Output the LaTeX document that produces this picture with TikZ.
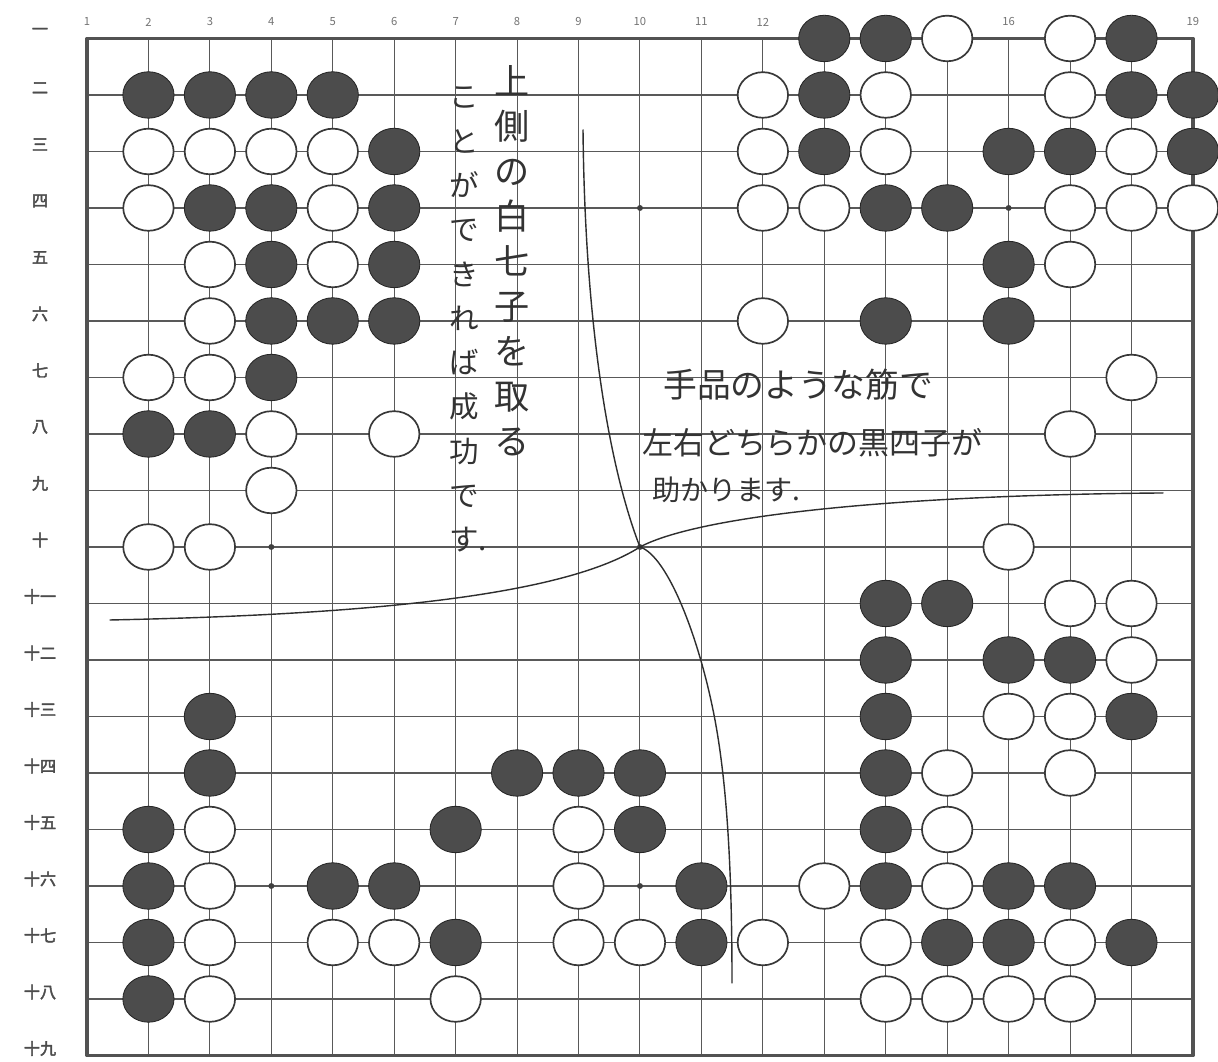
\documentclass[tikz,border=0pt]{standalone}
\usepackage{fontspec}
\newfontfamily\jpfont{Noto Sans CJK JP}
\newfontfamily\jplab[FakeBold=2.5]{Noto Sans CJK JP}
\usetikzlibrary{shapes.geometric}

\begin{document}
\begin{tikzpicture}[x=1.536cm,y=1.4125cm,line cap=round,line join=round,
  every node/.style={inner sep=0pt},
  gridline/.style={line width=0.75pt,draw=black!65},
  bstone/.style={ellipse,minimum width=1.28cm,minimum height=1.16cm,fill=black!70,draw=black!85,line width=0.6pt},
  wstone/.style={ellipse,minimum width=1.26cm,minimum height=1.14cm,fill=white,draw=black!78,line width=1.2pt},
  rowlab/.style={font=\jplab\fontsize{11.5}{11.5}\selectfont,text=black!70,yshift=5pt},
  collab/.style={font=\jpfont\fontsize{8}{8}\selectfont,text=black!55},
  hand/.style={text=black!80,align=center},
  stroke/.style={draw=black!82,line width=1pt}]
  \useasboundingbox (-0.416,-0.319) rectangle (19.408,-19.098);
  \fill[white] (-0.416,-0.319) rectangle (19.408,-19.098);
  % 盤：十九路の線と外枠
  \draw[gridline] (1,-2) -- (19,-2) (1,-3) -- (19,-3) (1,-4) -- (19,-4) (1,-5) -- (19,-5)
    (1,-6) -- (19,-6) (1,-7) -- (19,-7) (1,-8) -- (19,-8) (1,-9) -- (19,-9) (1,-10) -- (19,-10);
  \draw[gridline] (1,-11) -- (19,-11) (1,-12) -- (19,-12) (1,-13) -- (19,-13) (1,-14) -- (19,-14)
    (1,-15) -- (19,-15) (1,-16) -- (19,-16) (1,-17) -- (19,-17) (1,-18) -- (19,-18);
  \draw[gridline] (2,-1) -- (2,-19) (3,-1) -- (3,-19) (4,-1) -- (4,-19) (5,-1) -- (5,-19)
    (6,-1) -- (6,-19) (7,-1) -- (7,-19) (8,-1) -- (8,-19) (9,-1) -- (9,-19) (10,-1) -- (10,-19);
  \draw[gridline] (11,-1) -- (11,-19) (12,-1) -- (12,-19) (13,-1) -- (13,-19) (14,-1) -- (14,-19)
    (15,-1) -- (15,-19) (16,-1) -- (16,-19) (17,-1) -- (17,-19) (18,-1) -- (18,-19);
  \draw[line width=2.6pt,draw=black!68] (1,-1) rectangle (19,-19);
  % 星
  \fill[black!75] (10,-4) circle[radius=2.1pt] (16,-4) circle[radius=2.1pt] (4,-10) circle[radius=2.1pt]
    (10,-10) circle[radius=2.1pt] (4,-16) circle[radius=2.1pt] (10,-16) circle[radius=2.1pt];
  % 座標
  \node[collab] (c1) at (1,-0.708) {1};
  \node[collab] (c2) at (2,-0.708) {2};
  \node[collab] (c3) at (3,-0.708) {3};
  \node[collab] (c4) at (4,-0.708) {4};
  \node[collab] (c5) at (5,-0.708) {5};
  \node[collab] (c6) at (6,-0.708) {6};
  \node[collab] (c7) at (7,-0.708) {7};
  \node[collab] (c8) at (8,-0.708) {8};
  \node[collab] (c9) at (9,-0.708) {9};
  \node[collab] (c10) at (10,-0.708) {10};
  \node[collab] (c11) at (11,-0.708) {11};
  \node[collab] (c12) at (12,-0.708) {12};
  \node[collab] (c16) at (16,-0.708) {16};
  \node[collab] (c19) at (19,-0.708) {19};
  \node[rowlab] (r1) at (0.235,-1) {一};
  \node[rowlab] (r2) at (0.235,-2) {二};
  \node[rowlab] (r3) at (0.235,-3) {三};
  \node[rowlab] (r4) at (0.235,-4) {四};
  \node[rowlab] (r5) at (0.235,-5) {五};
  \node[rowlab] (r6) at (0.235,-6) {六};
  \node[rowlab] (r7) at (0.235,-7) {七};
  \node[rowlab] (r8) at (0.235,-8) {八};
  \node[rowlab] (r9) at (0.235,-9) {九};
  \node[rowlab] (r10) at (0.235,-10) {十};
  \node[rowlab] (r11) at (0.235,-11) {十一};
  \node[rowlab] (r12) at (0.235,-12) {十二};
  \node[rowlab] (r13) at (0.235,-13) {十三};
  \node[rowlab] (r14) at (0.235,-14) {十四};
  \node[rowlab] (r15) at (0.235,-15) {十五};
  \node[rowlab] (r16) at (0.235,-16) {十六};
  \node[rowlab] (r17) at (0.235,-17) {十七};
  \node[rowlab] (r18) at (0.235,-18) {十八};
  \node[rowlab] (r19) at (0.235,-19) {十九};
  % 石（列-行）
  \node[bstone] (b13-1) at (13,-1) {}; \node[bstone] (b14-1) at (14,-1) {}; \node[wstone] (w15-1) at (15,-1) {};
  \node[wstone] (w17-1) at (17,-1) {}; \node[bstone] (b18-1) at (18,-1) {};
  \node[bstone] (b2-2) at (2,-2) {}; \node[bstone] (b3-2) at (3,-2) {}; \node[bstone] (b4-2) at (4,-2) {};
  \node[bstone] (b5-2) at (5,-2) {}; \node[wstone] (w12-2) at (12,-2) {}; \node[bstone] (b13-2) at (13,-2) {};
  \node[wstone] (w14-2) at (14,-2) {}; \node[wstone] (w17-2) at (17,-2) {}; \node[bstone] (b18-2) at (18,-2) {};
  \node[bstone] (b19-2) at (19,-2) {};
  \node[wstone] (w2-3) at (2,-3) {}; \node[wstone] (w3-3) at (3,-3) {}; \node[wstone] (w4-3) at (4,-3) {};
  \node[wstone] (w5-3) at (5,-3) {}; \node[bstone] (b6-3) at (6,-3) {}; \node[wstone] (w12-3) at (12,-3) {};
  \node[bstone] (b13-3) at (13,-3) {}; \node[wstone] (w14-3) at (14,-3) {}; \node[bstone] (b16-3) at (16,-3) {};
  \node[bstone] (b17-3) at (17,-3) {}; \node[wstone] (w18-3) at (18,-3) {}; \node[bstone] (b19-3) at (19,-3) {};
  \node[wstone] (w2-4) at (2,-4) {}; \node[bstone] (b3-4) at (3,-4) {}; \node[bstone] (b4-4) at (4,-4) {};
  \node[wstone] (w5-4) at (5,-4) {}; \node[bstone] (b6-4) at (6,-4) {}; \node[wstone] (w12-4) at (12,-4) {};
  \node[wstone] (w13-4) at (13,-4) {}; \node[bstone] (b14-4) at (14,-4) {}; \node[bstone] (b15-4) at (15,-4) {};
  \node[wstone] (w17-4) at (17,-4) {}; \node[wstone] (w18-4) at (18,-4) {}; \node[wstone] (w19-4) at (19,-4) {};
  \node[wstone] (w3-5) at (3,-5) {}; \node[bstone] (b4-5) at (4,-5) {}; \node[wstone] (w5-5) at (5,-5) {};
  \node[bstone] (b6-5) at (6,-5) {}; \node[bstone] (b16-5) at (16,-5) {}; \node[wstone] (w17-5) at (17,-5) {};
  \node[wstone] (w3-6) at (3,-6) {}; \node[bstone] (b4-6) at (4,-6) {}; \node[bstone] (b5-6) at (5,-6) {};
  \node[bstone] (b6-6) at (6,-6) {}; \node[wstone] (w12-6) at (12,-6) {}; \node[bstone] (b14-6) at (14,-6) {};
  \node[bstone] (b16-6) at (16,-6) {};
  \node[wstone] (w2-7) at (2,-7) {}; \node[wstone] (w3-7) at (3,-7) {}; \node[bstone] (b4-7) at (4,-7) {};
  \node[wstone] (w18-7) at (18,-7) {};
  \node[bstone] (b2-8) at (2,-8) {}; \node[bstone] (b3-8) at (3,-8) {}; \node[wstone] (w4-8) at (4,-8) {};
  \node[wstone] (w6-8) at (6,-8) {}; \node[wstone] (w17-8) at (17,-8) {};
  \node[wstone] (w4-9) at (4,-9) {};
  \node[wstone] (w2-10) at (2,-10) {}; \node[wstone] (w3-10) at (3,-10) {}; \node[wstone] (w16-10) at (16,-10) {};
  \node[bstone] (b14-11) at (14,-11) {}; \node[bstone] (b15-11) at (15,-11) {}; \node[wstone] (w17-11) at (17,-11) {};
  \node[wstone] (w18-11) at (18,-11) {};
  \node[bstone] (b14-12) at (14,-12) {}; \node[bstone] (b16-12) at (16,-12) {}; \node[bstone] (b17-12) at (17,-12) {};
  \node[wstone] (w18-12) at (18,-12) {};
  \node[bstone] (b3-13) at (3,-13) {}; \node[bstone] (b14-13) at (14,-13) {}; \node[wstone] (w16-13) at (16,-13) {};
  \node[wstone] (w17-13) at (17,-13) {}; \node[bstone] (b18-13) at (18,-13) {};
  \node[bstone] (b3-14) at (3,-14) {}; \node[bstone] (b8-14) at (8,-14) {}; \node[bstone] (b9-14) at (9,-14) {};
  \node[bstone] (b10-14) at (10,-14) {}; \node[bstone] (b14-14) at (14,-14) {}; \node[wstone] (w15-14) at (15,-14) {};
  \node[wstone] (w17-14) at (17,-14) {};
  \node[bstone] (b2-15) at (2,-15) {}; \node[wstone] (w3-15) at (3,-15) {}; \node[bstone] (b7-15) at (7,-15) {};
  \node[wstone] (w9-15) at (9,-15) {}; \node[bstone] (b10-15) at (10,-15) {}; \node[bstone] (b14-15) at (14,-15) {};
  \node[wstone] (w15-15) at (15,-15) {};
  \node[bstone] (b2-16) at (2,-16) {}; \node[wstone] (w3-16) at (3,-16) {}; \node[bstone] (b5-16) at (5,-16) {};
  \node[bstone] (b6-16) at (6,-16) {}; \node[wstone] (w9-16) at (9,-16) {}; \node[bstone] (b11-16) at (11,-16) {};
  \node[wstone] (w13-16) at (13,-16) {}; \node[bstone] (b14-16) at (14,-16) {}; \node[wstone] (w15-16) at (15,-16) {};
  \node[bstone] (b16-16) at (16,-16) {}; \node[bstone] (b17-16) at (17,-16) {};
  \node[bstone] (b2-17) at (2,-17) {}; \node[wstone] (w3-17) at (3,-17) {}; \node[wstone] (w5-17) at (5,-17) {};
  \node[wstone] (w6-17) at (6,-17) {}; \node[bstone] (b7-17) at (7,-17) {}; \node[wstone] (w9-17) at (9,-17) {};
  \node[wstone] (w10-17) at (10,-17) {}; \node[bstone] (b11-17) at (11,-17) {}; \node[wstone] (w12-17) at (12,-17) {};
  \node[wstone] (w14-17) at (14,-17) {}; \node[bstone] (b15-17) at (15,-17) {}; \node[bstone] (b16-17) at (16,-17) {};
  \node[wstone] (w17-17) at (17,-17) {}; \node[bstone] (b18-17) at (18,-17) {};
  \node[bstone] (b2-18) at (2,-18) {}; \node[wstone] (w3-18) at (3,-18) {}; \node[wstone] (w7-18) at (7,-18) {};
  \node[wstone] (w14-18) at (14,-18) {}; \node[wstone] (w15-18) at (15,-18) {}; \node[wstone] (w16-18) at (16,-18) {};
  \node[wstone] (w17-18) at (17,-18) {};
  % 書き込み
  \node[hand,anchor=north,font=\jpfont\fontsize{25}{32}\selectfont] (goal1) at (7.917,-1.469)
    {上\\側\\の\\白\\七\\子\\を\\取\\る};
  \node[hand,anchor=north,font=\jpfont\fontsize{21}{31.5}\selectfont] (goal2) at (7.136,-1.858)
    {こ\\と\\が\\で\\き\\れ\\ば\\成\\功\\で\\す\rlap{.}};
  \node[hand,anchor=west,font=\jpfont\fontsize{24}{24}\selectfont] (trick1) at (10.375,-7.133) {手品のような筋で};
  \node[hand,anchor=west,font=\jpfont\fontsize{22}{22}\selectfont] (trick2) at (10.033,-8.159) {左右どちらかの黒四子が};
  \node[hand,anchor=west,font=\jpfont\fontsize{20}{20}\selectfont] (trick3) at (10.196,-8.991) {助かります.};
  % 分け目の線
  \coordinate (mid) at (10,-10);
  \coordinate (topend) at (9.073,-2.619);
  \coordinate (botend) at (11.498,-17.717);
  \coordinate (leftend) at (1.374,-11.292);
  \coordinate (rightend) at (18.513,-9.044);
  \draw[stroke] (topend) .. controls (9.105,-6.159) and (9.512,-8.637) .. (mid);
  \draw[stroke] (mid) .. controls (10.456,-10.159) and (10.977,-11.646) .. (11.221,-13.062)
    .. controls (11.433,-14.301) and (11.498,-15.894) .. (botend);
  \draw[stroke] (leftend) .. controls (5.281,-11.204) and (8.698,-10.903) .. (mid);
  \draw[stroke] (mid) .. controls (10.977,-9.434) and (14.232,-9.080) .. (rightend);
\end{tikzpicture}
\end{document}
